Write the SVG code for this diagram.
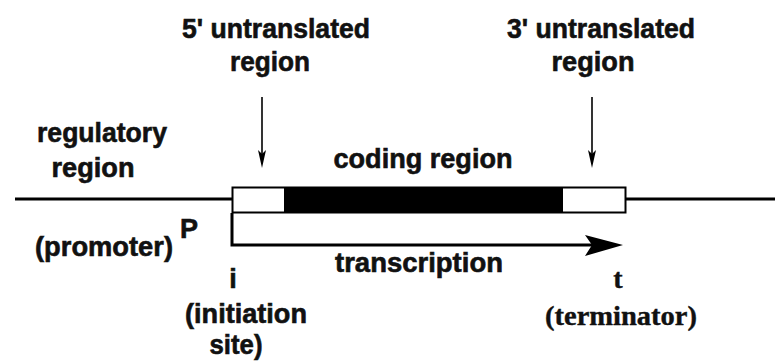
<svg xmlns="http://www.w3.org/2000/svg" width="775" height="363" viewBox="0 0 775 363">
  <style>
    .lbl { font-family: "Liberation Sans", Arial, sans-serif; font-weight: bold; font-size: 27px; fill: #111; stroke: #111; stroke-width: 0.6; text-anchor: middle; }
    .ser { font-family: "Liberation Serif", "Times New Roman", serif; font-weight: bold; font-size: 28px; fill: #111; stroke: #111; stroke-width: 0.4; text-anchor: middle; }
    .wire { stroke: #000; stroke-width: 3; fill: none; }
    .thin { stroke: #000; stroke-width: 1.6; fill: none; }
    .head { fill: #000; }
  </style>
  <rect width="775" height="363" fill="#fff"/>

  <!-- DNA strand -->
  <g id="strand">
    <line class="wire" x1="15" y1="199" x2="232" y2="199"/>
    <line class="wire" x1="626" y1="199" x2="775" y2="199"/>
  </g>

  <!-- gene: 5' UTR, coding region, 3' UTR -->
  <g id="gene">
    <rect x="232.5" y="187.5" width="393" height="25" fill="#fff" stroke="#000" stroke-width="2"/>
    <rect x="284" y="187.5" width="279" height="25" fill="#000"/>
  </g>

  <g id="connectors">
    <line class="thin" x1="262" y1="97" x2="262" y2="158"/>
    <path class="head" d="M258,150 L262,154 L266,150 L262,168 Z"/>
    <line class="thin" x1="592" y1="97" x2="592" y2="158"/>
    <path class="head" d="M588,150 L592,154 L596,150 L592,168 Z"/>
    <!-- transcription bracket -->
    <path class="wire" d="M232,213 L232,245 L600,245"/>
    <path class="head" d="M585,235 L623,245 L585,256 L592,245 Z"/>
  </g>

  <g id="utr5-label">
    <text class="lbl" x="276" y="38" textLength="188" lengthAdjust="spacingAndGlyphs">5' untranslated</text>
    <text class="lbl" x="270" y="71" textLength="80" lengthAdjust="spacingAndGlyphs">region</text>
  </g>
  <g id="utr3-label">
    <text class="lbl" x="601" y="38" textLength="188" lengthAdjust="spacingAndGlyphs">3' untranslated</text>
    <text class="lbl" x="593" y="71" textLength="83" lengthAdjust="spacingAndGlyphs">region</text>
  </g>
  <g id="regulatory-label">
    <text class="lbl" x="102" y="142" textLength="130" lengthAdjust="spacingAndGlyphs">regulatory</text>
    <text class="lbl" x="93" y="177" textLength="83" lengthAdjust="spacingAndGlyphs">region</text>
  </g>
  <g id="coding-label">
    <text class="lbl" x="423" y="168" textLength="179" lengthAdjust="spacingAndGlyphs">coding region</text>
  </g>
  <g id="promoter-label">
    <text class="lbl" x="189" y="238">P</text>
    <text class="lbl" x="104" y="256" textLength="138" lengthAdjust="spacingAndGlyphs">(promoter)</text>
  </g>
  <g id="transcription-label">
    <text class="lbl" x="419" y="272" textLength="168" lengthAdjust="spacingAndGlyphs">transcription</text>
  </g>
  <g id="initiation-label">
    <text class="lbl" x="233" y="288">i</text>
    <text class="lbl" x="246" y="323" textLength="122" lengthAdjust="spacingAndGlyphs">(initiation</text>
    <text class="lbl" x="236" y="354" textLength="53" lengthAdjust="spacingAndGlyphs">site)</text>
  </g>
  <g id="terminator-label">
    <text class="ser" x="618" y="288">t</text>
    <text class="ser" x="621" y="325" textLength="152" lengthAdjust="spacingAndGlyphs">(terminator)</text>
  </g>
</svg>
